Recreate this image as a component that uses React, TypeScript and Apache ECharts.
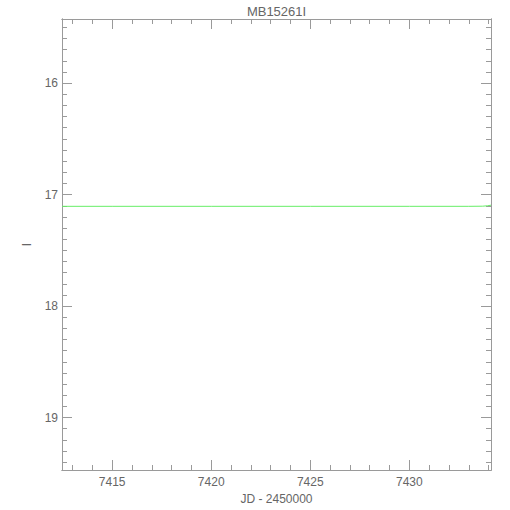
import React, { useEffect, useRef } from "react";
import * as echarts from "echarts";

const TITLE = "MB15261I";
const X_NAME = "JD - 2450000";
const Y_NAME = "I";
const X_RANGE = [7412.47, 7434.12];
const Y_RANGE = [15.425, 19.47];
const X_MAJOR = [7415, 7420, 7425, 7430];
const Y_MAJOR = [16, 17, 18, 19];
const JD = [7412.47, 7415, 7420, 7425, 7430, 7433, 7433.7, 7433.95, 7434.12];
const MAG = [17.105, 17.105, 17.105, 17.105, 17.105, 17.105, 17.104, 17.1, 17.095];

function minorTicks(lo: number, hi: number, step: number): number[] {
  const out: number[] = [];
  const start = Math.ceil(lo / step);
  const end = Math.floor(hi / step);
  for (let i = start; i <= end; i++) out.push(Math.round(i * step * 1000) / 1000);
  return out;
}

const AXIS_COLOR = "#9a9a9a";
const TEXT_COLOR = "#666";
const FONT = "Liberation Sans";

export default function App() {
  const ref = useRef<HTMLDivElement>(null);
  useEffect(() => {
    if (!ref.current) return;
    const chart = echarts.init(ref.current, null, { renderer: "svg" });
    const xMinor = minorTicks(X_RANGE[0], X_RANGE[1], 1);
    const yMinor = minorTicks(Y_RANGE[0], Y_RANGE[1], 0.1);

    const mkX = (pos: "bottom" | "top", major: boolean, labels: boolean) => ({
      type: "value",
      position: pos,
      min: X_RANGE[0],
      max: X_RANGE[1],
      name: labels ? X_NAME : "",
      nameLocation: "middle",
      nameGap: 19,
      nameTextStyle: { color: TEXT_COLOR, fontFamily: FONT, fontSize: 12 },
      axisLine: { show: true, lineStyle: { color: AXIS_COLOR, width: 1 } },
      axisTick: {
        show: true,
        inside: true,
        length: major ? 10 : 5,
        customValues: major ? X_MAJOR : xMinor,
        lineStyle: { color: AXIS_COLOR, width: 1 },
      },
      axisLabel: {
        show: labels,
        customValues: X_MAJOR,
        formatter: (v: number) => String(v),
        color: TEXT_COLOR,
        fontFamily: FONT,
        fontSize: 12,
        margin: 6,
      },
      splitLine: { show: false },
    });
    const mkY = (pos: "left" | "right", major: boolean, labels: boolean) => ({
      type: "value",
      position: pos,
      inverse: true,
      min: Y_RANGE[0],
      max: Y_RANGE[1],
      name: labels ? Y_NAME : "",
      nameLocation: "middle",
      nameGap: 29,
      nameTextStyle: { color: TEXT_COLOR, fontFamily: FONT, fontSize: 12 },
      axisLine: { show: true, lineStyle: { color: AXIS_COLOR, width: 1 } },
      axisTick: {
        show: true,
        inside: true,
        length: major ? 10 : 5,
        customValues: major ? Y_MAJOR : yMinor,
        lineStyle: { color: AXIS_COLOR, width: 1 },
      },
      axisLabel: {
        show: labels,
        customValues: Y_MAJOR,
        formatter: (v: number) => String(v),
        color: TEXT_COLOR,
        fontFamily: FONT,
        fontSize: 12,
        margin: 4,
      },
      splitLine: { show: false },
    });

    chart.setOption({
      animation: false,
      backgroundColor: "#ffffff",
      grid: { left: 62, right: 19, top: 19, bottom: 40, containLabel: false },
      graphic: [
        {
          type: "text",
          x: 276.5,
          y: 11,
          style: {
            text: TITLE,
            fill: TEXT_COLOR,
            font: `13px "${FONT}"`,
            textAlign: "center",
            textVerticalAlign: "middle",
          },
        },
      ],
      xAxis: [
        mkX("bottom", true, true),
        mkX("bottom", false, false),
        mkX("top", true, false),
        mkX("top", false, false),
      ],
      yAxis: [
        mkY("left", true, true),
        mkY("left", false, false),
        mkY("right", true, false),
        mkY("right", false, false),
      ],
      series: [
        {
          type: "line",
          xAxisIndex: 0,
          yAxisIndex: 0,
          data: JD.map((x, i) => [x, MAG[i]]),
          showSymbol: false,
          symbol: "none",
          smooth: false,
          lineStyle: { color: "#66ee66", width: 1 },
          clip: true,
        },
      ],
    });
    return () => chart.dispose();
  }, []);
  return (
    <div
      ref={ref}
      style={{ position: "fixed", left: 0, top: 0, width: 510, height: 510, background: "#fff" }}
    />
  );
}
